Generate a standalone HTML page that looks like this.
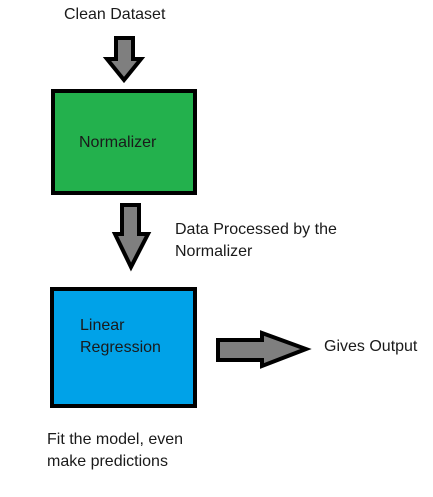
<!DOCTYPE html>
<html><head><style>
html,body{margin:0;padding:0;background:#fff;}
body{width:433px;height:497px;position:relative;overflow:hidden;font-family:"Liberation Sans",sans-serif;font-size:16px;color:#1a1a1a;}
.t{position:absolute;white-space:nowrap;line-height:22px;}
svg{position:absolute;left:0;top:0;}
</style></head><body>
<svg width="433" height="497" viewBox="0 0 433 497">
  <rect x="53" y="91" width="142" height="102" fill="#23b14d" stroke="#000" stroke-width="4"/>
  <rect x="52" y="289" width="143" height="117" fill="#00a2e8" stroke="#000" stroke-width="4"/>
  <polygon points="116,38 133,38 133,59 141,59 124,80 107,59 116,59" fill="#7f7f7f" stroke="#000" stroke-width="4" stroke-linejoin="miter"/>
  <polygon points="122,205 139,205 139,234 148,234 131,267 115,234 122,234" fill="#7f7f7f" stroke="#000" stroke-width="4"/>
  <polygon points="218,340 262,340 262,333 306,349 262,366 262,360 218,360" fill="#7f7f7f" stroke="#000" stroke-width="4"/>
</svg>
<div class="t" style="left:64px;top:4px;">Clean Dataset</div>
<div class="t" style="left:79px;top:132px;">Normalizer</div>
<div class="t" style="left:175px;top:219px;">Data Processed by the<br>Normalizer</div>
<div class="t" style="left:80px;top:315px;">Linear<br>Regression</div>
<div class="t" style="left:324px;top:336px;">Gives Output</div>
<div class="t" style="left:47px;top:429px;">Fit the model, even<br>make predictions</div>
</body></html>
